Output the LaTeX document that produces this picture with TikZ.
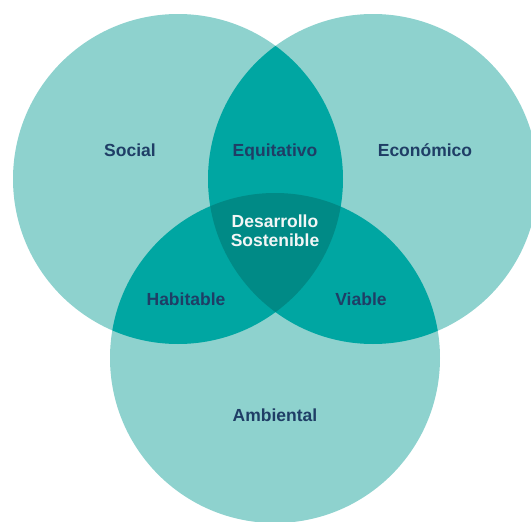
\documentclass[tikz,border=0pt]{standalone}
\usepackage{fontspec}
\setmainfont{Liberation Sans}
\definecolor{setlight}{HTML}{8ED2CE}
\definecolor{setmid}{HTML}{00A6A2}
\definecolor{setdark}{HTML}{008A86}
\definecolor{labelink}{HTML}{1F3E66}
\definecolor{centerink}{HTML}{F2F6F6}
\begin{document}
\begin{tikzpicture}[x=1pt,y=-1pt,
  setlabel/.style={font=\fontsize{17.5}{19}\selectfont\bfseries, text=labelink, inner sep=0pt},
  corelabel/.style={font=\fontsize{17.5}{18.5}\selectfont\bfseries, text=centerink, align=center, inner sep=0pt}]
\useasboundingbox (0,0) rectangle (531,522);
\clip (0,0) rectangle (531,522);
\def\rad{165}
\coordinate (cs) at (178,179);
\coordinate (ce) at (373,179);
\coordinate (ca) at (275,358);
% single sets
\fill[setlight] (cs) circle[radius=\rad];
\fill[setlight] (ce) circle[radius=\rad];
\fill[setlight] (ca) circle[radius=\rad];
% pairwise overlaps
\begin{scope}
  \clip (cs) circle[radius=\rad];
  \fill[setmid] (ce) circle[radius=\rad];
  \fill[setmid] (ca) circle[radius=\rad];
\end{scope}
\begin{scope}
  \clip (ce) circle[radius=\rad];
  \fill[setmid] (ca) circle[radius=\rad];
\end{scope}
% triple overlap
\begin{scope}
  \clip (cs) circle[radius=\rad];
  \clip (ce) circle[radius=\rad];
  \fill[setdark] (ca) circle[radius=\rad];
\end{scope}
% labels
\node[setlabel] (social) at (130,150) {Social};
\node[setlabel] (equit) at (275,151.5) {Equitativo};
\node[setlabel] (econ) at (425,150) {Económico};
\node[corelabel] (core) at (275,230.5) {Desarrollo\\Sostenible};
\node[setlabel] (habit) at (186,299) {Habitable};
\node[setlabel] (viable) at (361,299) {Viable};
\node[setlabel] (amb) at (275,415.5) {Ambiental};
\end{tikzpicture}
\end{document}
